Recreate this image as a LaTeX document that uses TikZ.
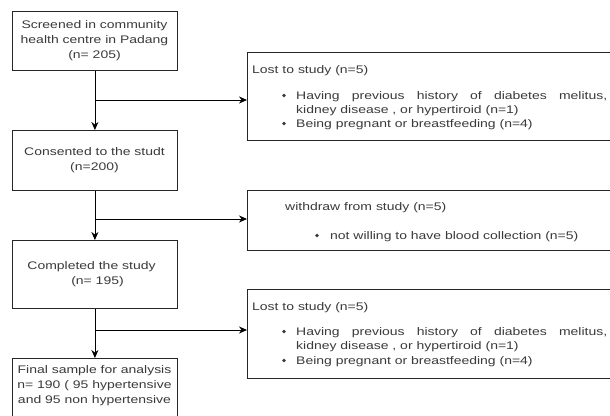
\documentclass[tikz,border=0pt]{standalone}
\usepackage{fontspec}
\setmainfont[FakeStretch=1.27]{Liberation Sans}
\usetikzlibrary{arrows.meta}
\definecolor{txt}{HTML}{3A3A3A}
\begin{document}
\begin{tikzpicture}[x=1pt,y=-1pt,
  font=\fontsize{11}{15}\selectfont,
  box/.style={draw=black!85, line width=0.8pt, anchor=north west, inner sep=0pt},
  lbl/.style={text=txt, inner sep=0pt, align=center},
  rtxt/.style={text=txt, inner sep=0pt, anchor=west},
  arr/.style={draw=black, line width=0.8pt, -{Stealth[length=8pt,width=7pt]}},
  dot/.style={fill=txt}]
\useasboundingbox (0,0) rectangle (610,415);
\clip (0,0) rectangle (610,415);
\fill[white] (0,0) rectangle (610,415);
% left boxes
\node[box, minimum width=165, minimum height=59] (b1) at (12,11) {};
\node[box, minimum width=165, minimum height=60] (b2) at (12,130) {};
\node[box, minimum width=165, minimum height=68] (b3) at (12,240) {};
\node[box, minimum width=165, minimum height=62] (b4) at (12,358) {};
\node[lbl] (t1) at (94.5,41) {Screened in community\\health centre in Padang\\(n= 205)};
\node[lbl] (t2) at (94.5,160.5) {Consented to the studt\\(n=200)};
\node[lbl] (t3) at (94.5,274.5) {Completed the study\hspace*{6pt}\\\hspace*{6pt}(n= 195)};
\node[lbl, anchor=north] (t4) at (94.5,365) {Final sample for analysis\\n= 190 ( 95 hypertensive\\and 95 non hypertensive};
% right boxes
\node[box, minimum width=420, minimum height=88] (r1) at (247,52) {};
\node[box, minimum width=420, minimum height=60] (r2) at (247,190) {};
\node[box, minimum width=420, minimum height=89] (r3) at (247,289) {};
% right box 1 text
\node[rtxt] (h1) at (252,71) {Lost to study (n=5)};
\fill[dot] (284,95.5) circle (1.8);
\node[rtxt] (a1) at (296,97) {\hbox to 311pt{Having\hfil previous\hfil history\hfil of\hfil diabetes\hfil melitus,}};
\node[rtxt] (a2) at (296,111) {kidney disease , or hypertiroid (n=1)};
\fill[dot] (284,123.5) circle (1.8);
\node[rtxt] (a3) at (296,125) {Being pregnant or breastfeeding (n=4)};
% right box 2 text
\node[rtxt] (h2) at (285,208) {withdraw from study (n=5)};
\fill[dot] (317,235.5) circle (1.8);
\node[rtxt] (c1) at (330,237) {not willing to have blood collection (n=5)};
% right box 3 text
\node[rtxt] (h3) at (252,308) {Lost to study (n=5)};
\fill[dot] (284,331.5) circle (1.8);
\node[rtxt] (d1) at (296,333) {\hbox to 311pt{Having\hfil previous\hfil history\hfil of\hfil diabetes\hfil melitus,}};
\node[rtxt] (d2) at (296,347) {kidney disease , or hypertiroid (n=1)};
\fill[dot] (284,360.5) circle (1.8);
\node[rtxt] (d3) at (296,362) {Being pregnant or breastfeeding (n=4)};
% connectors
\draw[arr] (b1.south) -- (b2.north);
\draw[arr] (b2.south) -- (b3.north);
\draw[arr] (b3.south) -- (b4.north);
\coordinate (j1) at (b1.south |- 0,100);
\coordinate (j2) at (b2.south |- 0,219);
\coordinate (j3) at (b3.south |- 0,330);
\draw[arr] (j1) -- (j1 -| r1.west);
\draw[arr] (j2) -- (j2 -| r2.west);
\draw[arr] (j3) -- (j3 -| r3.west);
\end{tikzpicture}
\end{document}
